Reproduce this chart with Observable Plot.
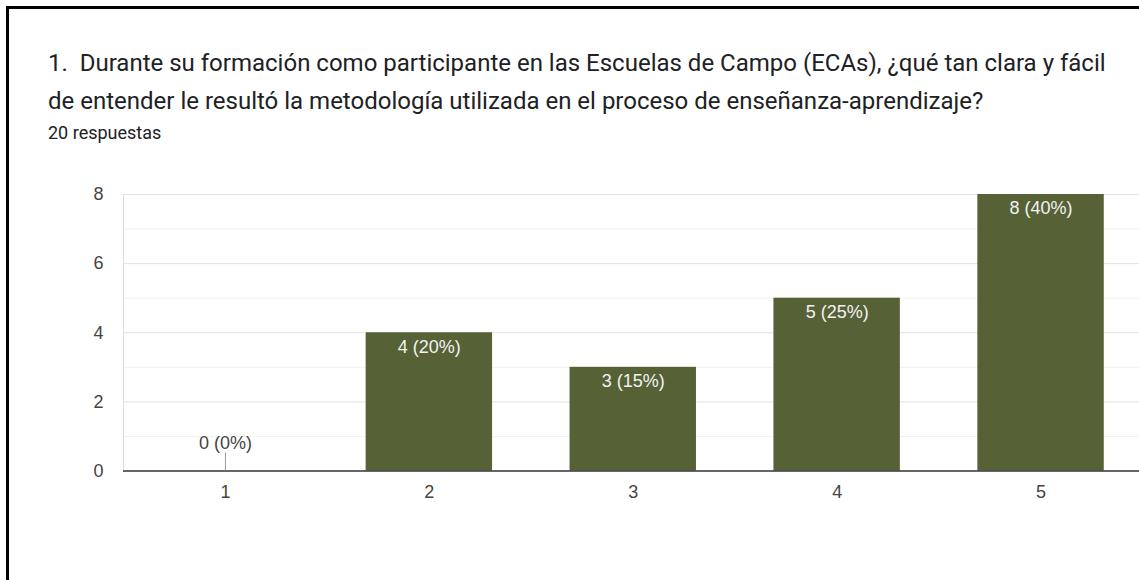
<!DOCTYPE html>
<html><head><meta charset="utf-8">
<script src="https://cdn.jsdelivr.net/npm/d3@7"></script>
<script src="https://cdn.jsdelivr.net/npm/@observablehq/plot@0.6"></script>
<style>
html,body{margin:0;padding:0;background:#fff;overflow:hidden;width:1139px;height:580px;}
#frame{position:absolute;left:6px;top:6px;width:1200px;height:640px;border-top:3px solid #000;border-left:3px solid #000;}
#title{position:absolute;left:48px;top:43.5px;font-family:Roboto,sans-serif;font-size:24px;line-height:38px;color:#202124;white-space:pre;}
#sub{position:absolute;left:48px;top:124px;font-family:Roboto,sans-serif;font-size:18px;line-height:18px;color:#202124;}
#chart{position:absolute;left:0;top:150px;width:1150px;}
#chart svg{max-width:none !important;}
</style></head><body>
<div id="frame"></div>
<div id="title"></div>
<div id="sub"></div>
<div id="chart"></div>
<script>
const titleLines = [
  "1.  Durante su formación como participante en las Escuelas de Campo (ECAs), ¿qué tan clara y fácil",
  "de entender le resultó la metodología utilizada en el proceso de enseñanza-aprendizaje?"
];
const subtitle = "20 respuestas";
const categories = ["1", "2", "3", "4", "5"];
const counts = [0, 4, 3, 5, 8];
const totalResponses = 20;
const yTicks = [0, 2, 4, 6, 8];
const yMinorTicks = [1, 3, 5, 7];

document.getElementById("title").textContent = titleLines.join("\n");
document.getElementById("sub").textContent = subtitle;

const data = categories.map((c, i) => ({
  cat: c,
  value: counts[i],
  label: `${counts[i]} (${Math.round(counts[i] / totalResponses * 100)}%)`
}));
const zeros = data.filter(d => d.value === 0);
const nonzero = data.filter(d => d.value > 0);

const chart = Plot.plot({
  width: 1150,
  height: 381,
  marginLeft: 123,
  marginRight: 7.5,
  marginTop: 44,
  marginBottom: 60.5,
  style: {fontFamily: "'Liberation Sans', Arial, sans-serif", fontSize: "18px", color: "#444", background: "transparent", overflow: "visible", maxWidth: "none"},
  x: {domain: categories, paddingInner: 0.38, paddingOuter: 0.19, round: false, label: null},
  y: {domain: [0, 8], label: null},
  marks: [
    Plot.ruleY(yMinorTicks, {stroke: "#f2f2f2"}),
    Plot.ruleY(yTicks.filter(t => t > 0), {stroke: "#e3e3e3"}),
    Plot.frame({anchor: "left", stroke: "#dcdcdc"}),
    Plot.barY(data, {x: "cat", y: "value", fill: "#566136"}),
    Plot.ruleY([0], {stroke: "#333", strokeWidth: 1.5}),
    Plot.ruleX(zeros, {x: "cat", y1: "value", y2: "value", insetTop: -18, stroke: "#999"}),
    Plot.text(nonzero, {x: "cat", y: "value", text: "label", dy: 14, fill: "#f2f2f2"}),
    Plot.text(zeros, {x: "cat", y: "value", text: "label", dy: -27.5, fill: "#444"}),
    Plot.axisX({tickSize: 0, tickPadding: 14, label: null}),
    Plot.axisY({ticks: yTicks, tickSize: 0, tickPadding: 20, label: null})
  ]
});
document.getElementById("chart").appendChild(chart);
</script>
</body></html>
